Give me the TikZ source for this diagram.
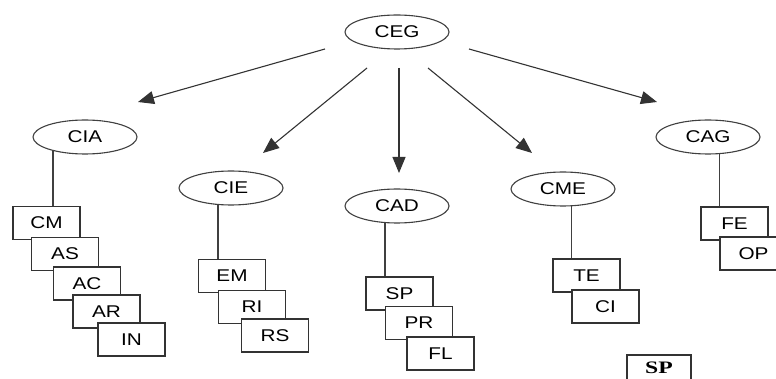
\documentclass[tikz,border=0pt]{standalone}
\usepackage{fontspec}
\setmainfont[FakeStretch=1.22]{Liberation Sans}
\newfontfamily\spfont[FakeStretch=1.35]{Liberation Serif}
\usetikzlibrary{shapes.geometric,arrows.meta,backgrounds}
\tikzset{
  oval/.style={ellipse,draw=black!75,fill=white,line width=1.1pt,minimum width=104pt,minimum height=34pt,inner sep=0pt,font=\fontsize{17}{17}\selectfont},
  box/.style={rectangle,draw=black!80,fill=white,line width=1.1pt,minimum width=67pt,minimum height=33pt,inner sep=0pt,font=\fontsize{17}{17}\selectfont},
  link/.style={draw=black!75,line width=1.1pt},
  arr/.style={draw=black!80,line width=1.1pt,-{Triangle[length=16pt,width=13pt]}}
}
\begin{document}
\begin{tikzpicture}[x=1pt,y=-1pt]
\useasboundingbox (0,0) rectangle (776,379);
\begin{scope}
\clip (0,0) rectangle (776,379);
% ovals
\node[oval] (ceg) at (397,32) {CEG};
\node[oval] (cia) at (85,137) {CIA};
\node[oval] (cie) at (231,188) {CIE};
\node[oval] (cad) at (397,206) {CAD};
\node[oval] (cme) at (563,189) {CME};
\node[oval] (cag) at (708,137) {CAG};

% arrows
\coordinate (s1) at (325,49);  \coordinate (t1) at (138,102);
\coordinate (s2) at (367,68);  \coordinate (t2) at (263,153);
\coordinate (s3) at (399,68);  \coordinate (t3) at (399,173);
\coordinate (s4) at (428,68);  \coordinate (t4) at (532,153);
\coordinate (s5) at (469,49);  \coordinate (t5) at (657,102);
\draw[arr] (s1) -- (t1);
\draw[arr] (s2) -- (t2);
\draw[arr] (s3) -- (t3);
\draw[arr] (s4) -- (t4);
\draw[arr] (s5) -- (t5);

% CIA
\node[box] (cm) at (46.5,223) {CM};
\node[box] (as) at (65,254) {AS};
\node[box] (ac) at (87,283.5) {AC};
\node[box] (ar) at (106.5,311.5) {AR};
\node[box] (in) at (131.5,339.5) {IN};
% CIE
\node[box] (em) at (232,276) {EM};
\node[box] (ri) at (252,307) {RI};
\node[box] (rs) at (275,335.5) {RS};
% CAD
\node[box] (sp) at (399.5,293.5) {SP};
\node[box] (pr) at (419,323) {PR};
\node[box] (fl) at (440.5,353.5) {FL};
% CME
\node[box] (te) at (586.5,275.5) {TE};
\node[box] (ci) at (605.5,306.5) {CI};
% CAG
\node[box] (fe) at (734.5,223.5) {FE};
\node[box] (op) at (753.5,253.5) {OP};

\node[box,minimum width=64pt,minimum height=26pt,font=\spfont\bfseries\fontsize{17.5}{17.5}\selectfont] (spb) at (659,368) {SP};

\begin{scope}[on background layer]
\draw[link] (cia.center -| ac.north west) -- (cm.north -| ac.north west);
\draw[link] (cie.center -| ri.north west) -- (em.north -| ri.north west);
\draw[link] (cad.center -| pr.north west) -- (sp.north -| pr.north west);
\draw[link] (cme.center -| ci.north west) -- (te.north -| ci.north west);
\draw[link] (cag.center -| op.north west) -- (fe.north -| op.north west);
\end{scope}
\end{scope}
\end{tikzpicture}
\end{document}
